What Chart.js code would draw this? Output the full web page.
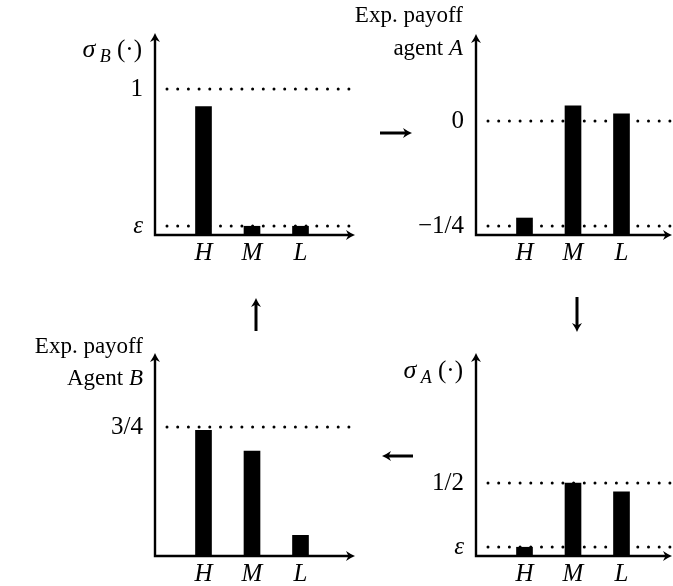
<!DOCTYPE html>
<html>
<head>
<meta charset="utf-8">
<script src="https://cdn.jsdelivr.net/npm/chart.js@4.4.0/dist/chart.umd.min.js"></script>
<style>
  html, body { margin: 0; padding: 0; background: #fff; }
  #wrap { position: relative; width: 673px; height: 586px; overflow: hidden; }
  #wrap canvas { position: absolute; left: 0; top: 0; }
</style>
</head>
<body>
<div id="wrap">
  <canvas id="sigmaB" width="673" height="586"></canvas>
  <canvas id="payoffA" width="673" height="586"></canvas>
  <canvas id="sigmaA" width="673" height="586"></canvas>
  <canvas id="payoffB" width="673" height="586"></canvas>
</div>
<script>
// Data
const categories = ['H', 'M', 'L'];
const eps = 0.06;

// top left: sigma_B(.)
const sigmaBValues = [0.88, eps, eps];
const sigmaBTicks = [eps, 1];
const sigmaBTickLabels = ['ε', '1'];

// top right: expected payoff of agent A
const payoffAValues = [-0.231, 0.036, 0.017];
const payoffATicks = [-0.25, 0];
const payoffATickLabels = ['−1/4', '0'];

// bottom right: sigma_A(.)
const sigmaAValues = [eps, 0.5, 0.44];
const sigmaATicks = [eps, 0.5];
const sigmaATickLabels = ['ε', '1/2'];

// bottom left: expected payoff of agent B
const payoffBValues = [0.73, 0.61, 0.12];
const payoffBTicks = [0.75];
const payoffBTickLabels = ['3/4'];

// Layout
const W = 673, H = 586;
const SERIF = '"Liberation Serif", "DejaVu Serif", serif';
const FS = 23;       // text labels
const TICK_FS = 25;  // y tick labels
const CAT_FS = 25;   // H M L
const Y_AXIS_W = 60, X_AXIS_H = 34;

function arrowHead(ctx, x, y, angle) {
    ctx.save();
    ctx.translate(x, y);
    ctx.rotate(angle);
    ctx.beginPath();
    ctx.moveTo(0, 0);
    ctx.quadraticCurveTo(-4, -1.5, -9, -5);
    ctx.lineTo(-6.5, 0);
    ctx.lineTo(-9, 5);
    ctx.quadraticCurveTo(-4, 1.5, 0, 0);
    ctx.closePath();
    ctx.fill();
    ctx.restore();
}

// draw a run of [text, font, dy] parts with its right edge at x
function drawRun(ctx, parts, x, y) {
    let total = 0;
    parts.forEach(p => { ctx.font = p[1]; total += ctx.measureText(p[0]).width; });
    let cx = x - total;
    ctx.textAlign = 'left';
    ctx.textBaseline = 'alphabetic';
    parts.forEach(p => {
        ctx.font = p[1];
        ctx.fillText(p[0], cx, y + (p[2] || 0));
        cx += ctx.measureText(p[0]).width;
    });
}

const upright = `${FS}px ${SERIF}`;
const italic = `italic ${FS}px ${SERIF}`;
const sigmaFont = `italic 26px ${SERIF}`;
const parenFont = `25px ${SERIF}`;
const subItalic = `italic 18px ${SERIF}`;

const titles = {
    sigmaB: ctx => drawRun(ctx, [['σ', sigmaFont], [' ', subItalic], ['B', subItalic, 5], [' (·)', parenFont]], 142, 57),
    sigmaA: ctx => drawRun(ctx, [['σ', sigmaFont], [' ', subItalic], ['A', subItalic, 5], [' (·)', parenFont]], 463, 378),
    payoffA: ctx => {
        drawRun(ctx, [['Exp. payoff', upright]], 463, 22);
        drawRun(ctx, [['agent ', upright], ['A', italic]], 463, 55);
    },
    payoffB: ctx => {
        drawRun(ctx, [['Exp. payoff', upright]], 143, 353);
        drawRun(ctx, [['Agent ', upright], ['B', italic]], 143, 385);
    }
};

function makeDeco(opts) {
    return {
        id: 'panelDeco',
        beforeDatasetsDraw(chart) {
            const ctx = chart.ctx, y = chart.scales.y, a = chart.chartArea;
            ctx.save();
            ctx.strokeStyle = '#000';
            ctx.lineWidth = 3;
            ctx.lineCap = 'round';
            ctx.setLineDash([0, 10.7]);
            opts.ticks.forEach(v => {
                const py = Math.round(y.getPixelForValue(v));
                ctx.beginPath();
                ctx.moveTo(a.left + 12, py);
                ctx.lineTo(opts.dotEnd, py);
                ctx.stroke();
            });
            ctx.restore();
        },
        afterDatasetsDraw(chart) {
            const ctx = chart.ctx, a = chart.chartArea;
            ctx.save();
            ctx.strokeStyle = '#000';
            ctx.fillStyle = '#000';
            ctx.lineWidth = 2.4;
            ctx.beginPath();
            ctx.moveTo(a.left, a.top + 4);
            ctx.lineTo(a.left, a.bottom);
            ctx.lineTo(opts.xEnd - 4, a.bottom);
            ctx.stroke();
            arrowHead(ctx, a.left, a.top, -Math.PI / 2);
            arrowHead(ctx, opts.xEnd, a.bottom, 0);
            titles[opts.id](ctx);
            if (opts.flow) drawFlowArrows(ctx);
            ctx.restore();
        }
    };
}

function flowArrow(ctx, x1, y1, x2, y2) {
    const ang = Math.atan2(y2 - y1, x2 - x1);
    ctx.lineWidth = 3;
    ctx.beginPath();
    ctx.moveTo(x1, y1);
    ctx.lineTo(x2 - 5 * Math.cos(ang), y2 - 5 * Math.sin(ang));
    ctx.stroke();
    arrowHead(ctx, x2, y2, ang);
}

function drawFlowArrows(ctx) {
    flowArrow(ctx, 380, 133, 412, 133);
    flowArrow(ctx, 577, 297, 577, 332);
    flowArrow(ctx, 413, 456, 382, 456);
    flowArrow(ctx, 256, 331, 256, 298);
}

function makePanel(opts) {
    const labels = ['', ...categories, ''];
    const data = [null, ...opts.values, null];
    new Chart(document.getElementById(opts.id), {
        type: 'bar',
        data: {
            labels: labels,
            datasets: [{
                data: data,
                backgroundColor: '#000',
                borderWidth: 0,
                barThickness: 16,
                base: opts.min
            }]
        },
        options: {
            responsive: false,
            animation: false,
            devicePixelRatio: 1,
            layout: {
                padding: {
                    left: opts.left - Y_AXIS_W,
                    right: W - opts.right,
                    top: opts.top,
                    bottom: H - opts.bottom - X_AXIS_H
                }
            },
            plugins: {
                legend: { display: false },
                tooltip: { enabled: false }
            },
            scales: {
                x: {
                    offset: false,
                    grid: { display: false, drawTicks: false },
                    border: { display: false },
                    ticks: {
                        color: '#000',
                        font: { family: SERIF, size: CAT_FS, style: 'italic' },
                        padding: 3,
                        maxRotation: 0,
                        autoSkip: false
                    },
                    afterFit: s => { s.height = X_AXIS_H; }
                },
                y: {
                    min: opts.min,
                    max: opts.max,
                    grid: { display: false, drawTicks: false },
                    border: { display: false },
                    afterBuildTicks: s => { s.ticks = opts.ticks.map(v => ({ value: v })); },
                    ticks: {
                        color: '#000',
                        padding: 12,
                        font: c => ({ family: SERIF, size: TICK_FS, style: opts.tickLabels[c.index] === 'ε' ? 'italic' : 'normal' }),
                        callback: (v, i) => opts.tickLabels[i]
                    },
                    afterFit: s => { s.width = Y_AXIS_W; }
                }
            }
        },
        plugins: [makeDeco(opts)]
    });
}

makePanel({ id: 'sigmaB', values: sigmaBValues, ticks: sigmaBTicks, tickLabels: sigmaBTickLabels,
    min: 0, max: 1.384, left: 155, right: 349, top: 33, bottom: 235, xEnd: 355, dotEnd: 359, flow: true });
makePanel({ id: 'payoffA', values: payoffAValues, ticks: payoffATicks, tickLabels: payoffATickLabels,
    min: -0.2714, max: 0.207, left: 476, right: 670, top: 34, bottom: 235, xEnd: 672, dotEnd: 676 });
makePanel({ id: 'sigmaA', values: sigmaAValues, ticks: sigmaATicks, tickLabels: sigmaATickLabels,
    min: 0, max: 1.39, left: 476, right: 670, top: 353, bottom: 556, xEnd: 672, dotEnd: 676 });
makePanel({ id: 'payoffB', values: payoffBValues, ticks: payoffBTicks, tickLabels: payoffBTickLabels,
    min: 0, max: 1.18, left: 155, right: 349, top: 353, bottom: 556, xEnd: 355, dotEnd: 359 });
</script>
</body>
</html>
